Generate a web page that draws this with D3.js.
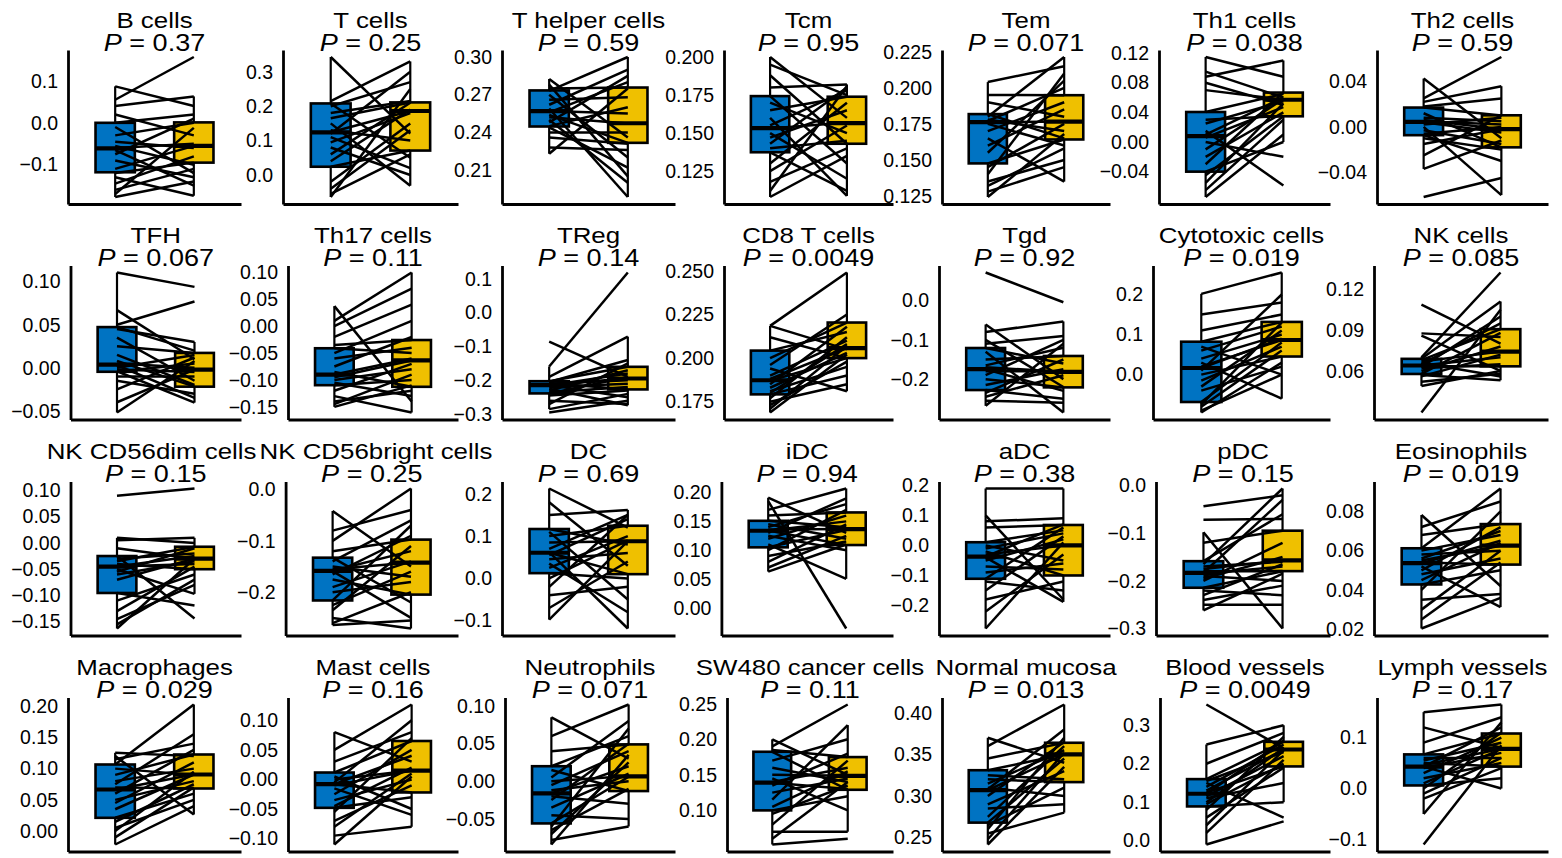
<!DOCTYPE html>
<html>
<head>
<meta charset="utf-8">
<script src="https://cdn.jsdelivr.net/npm/d3@7"></script>
<style>
  body { margin: 0; background: #fff; }
  svg text { font-family: "Liberation Sans", Arial, Helvetica, sans-serif; fill: #000; }
</style>
</head>
<body>
<svg id="main" width="1562" height="858"></svg>
<script>
// cell types, one small panel each (7 per row)
var cellTypes = [
  "B cells", "T cells", "T helper cells", "Tcm", "Tem", "Th1 cells", "Th2 cells",
  "TFH", "Th17 cells", "TReg", "CD8 T cells", "Tgd", "Cytotoxic cells", "NK cells",
  "NK CD56dim cells", "NK CD56bright cells", "DC", "iDC", "aDC", "pDC", "Eosinophils",
  "Macrophages", "Mast cells", "Neutrophils", "SW480 cancer cells", "Normal mucosa", "Blood vessels", "Lymph vessels"
];

var pValues = [
  "0.37", "0.25", "0.59", "0.95", "0.071", "0.038", "0.59",
  "0.067", "0.11", "0.14", "0.0049", "0.92", "0.019", "0.085",
  "0.15", "0.25", "0.69", "0.94", "0.38", "0.15", "0.019",
  "0.029", "0.16", "0.071", "0.11", "0.013", "0.0049", "0.17"
];

var tickLabels = [
  ["−0.1", "0.0", "0.1"], ["0.0", "0.1", "0.2", "0.3"], ["0.21", "0.24", "0.27", "0.30"],
  ["0.125", "0.150", "0.175", "0.200"], ["0.125", "0.150", "0.175", "0.200", "0.225"],
  ["−0.04", "0.00", "0.04", "0.08", "0.12"], ["−0.04", "0.00", "0.04"],
  ["−0.05", "0.00", "0.05", "0.10"], ["−0.15", "−0.10", "−0.05", "0.00", "0.05", "0.10"],
  ["−0.3", "−0.2", "−0.1", "0.0", "0.1"], ["0.175", "0.200", "0.225", "0.250"],
  ["−0.2", "−0.1", "0.0"], ["0.0", "0.1", "0.2"], ["0.06", "0.09", "0.12"],
  ["−0.15", "−0.10", "−0.05", "0.00", "0.05", "0.10"], ["−0.2", "−0.1", "0.0"],
  ["−0.1", "0.0", "0.1", "0.2"], ["0.00", "0.05", "0.10", "0.15", "0.20"],
  ["−0.2", "−0.1", "0.0", "0.1", "0.2"], ["−0.3", "−0.2", "−0.1", "0.0"],
  ["0.02", "0.04", "0.06", "0.08"],
  ["0.00", "0.05", "0.10", "0.15", "0.20"], ["−0.10", "−0.05", "0.00", "0.05", "0.10"],
  ["−0.05", "0.00", "0.05", "0.10"], ["0.10", "0.15", "0.20", "0.25"],
  ["0.25", "0.30", "0.35", "0.40"], ["0.0", "0.1", "0.2", "0.3"], ["−0.1", "0.0", "0.1"]
];

// box hinges: [q1, median, q3]
var boxBefore = [
  [-0.118, -0.061, 0.000], [0.024, 0.124, 0.208], [0.2447, 0.257, 0.2734], [0.1374, 0.1533, 0.1743],
  [0.1476, 0.1762, 0.1818], [-0.040, 0.008, 0.0405], [-0.0073, 0.0044, 0.017],
  [-0.0046, 0.0038, 0.0473], [-0.1097, -0.090, -0.041], [-0.2386, -0.2142, -0.2025], [0.1792, 0.1873, 0.2043],
  [-0.2278, -0.1747, -0.1207], [-0.0684, 0.0165, 0.0822], [0.0578, 0.064, 0.0689],
  [-0.0953, -0.0449, -0.0249], [-0.216, -0.1585, -0.1327], [0.0124, 0.0607, 0.1168], [0.105, 0.1338, 0.151],
  [-0.111, -0.037, 0.0106], [-0.2144, -0.183, -0.1586], [0.0428, 0.0536, 0.0612],
  [0.0213, 0.0666, 0.1066], [-0.048, -0.008, 0.0117], [-0.056, -0.016, 0.020], [0.100, 0.139, 0.1825],
  [0.268, 0.307, 0.331], [0.089, 0.122, 0.160], [0.006, 0.043, 0.067]
];

var boxAfter = [
  [-0.095, -0.055, 0.001], [0.071, 0.186, 0.211], [0.2317, 0.2473, 0.2757], [0.143, 0.1565, 0.1739],
  [0.1642, 0.1766, 0.1949], [0.0347, 0.057, 0.0667], [-0.018, -0.002, 0.0102],
  [-0.0219, -0.002, 0.0173], [-0.1127, -0.0637, -0.0257], [-0.2268, -0.1946, -0.160], [0.200, 0.2057, 0.2204],
  [-0.221, -0.1814, -0.141], [0.0452, 0.0864, 0.1316], [0.0634, 0.0742, 0.0907],
  [-0.050, -0.0298, -0.0072], [-0.2046, -0.1423, -0.0975], [0.010, 0.0879, 0.1245], [0.109, 0.1367, 0.1655],
  [-0.100, 0.000, 0.068], [-0.1795, -0.157, -0.0946], [0.0529, 0.0625, 0.0735],
  [0.0682, 0.0906, 0.1226], [-0.022, 0.015, 0.065], [-0.013, 0.0066, 0.049], [0.129, 0.1486, 0.175],
  [0.3167, 0.350, 0.364], [0.193, 0.237, 0.257], [0.043, 0.078, 0.108]
];

// paired samples, before (blue) and after (yellow), same order per panel
var pairedBefore = [
  [0.087, 0.055, 0.040, 0.020, 0.000, -0.010, -0.030, -0.045, -0.055, -0.060, -0.065, -0.075, -0.090, -0.110, -0.120, -0.130, -0.145, -0.160, -0.170, -0.177],
  [0.343, 0.215, 0.208, 0.200, 0.180, 0.165, 0.150, 0.130, 0.124, 0.120, 0.110, 0.095, 0.080, 0.060, 0.040, 0.024, -0.020, -0.040, -0.055, -0.064],
  [0.2825, 0.278, 0.275, 0.273, 0.270, 0.266, 0.262, 0.259, 0.257, 0.256, 0.254, 0.252, 0.250, 0.248, 0.245, 0.244, 0.240, 0.236, 0.228, 0.223],
  [0.200, 0.195, 0.188, 0.180, 0.1743, 0.170, 0.165, 0.160, 0.155, 0.153, 0.150, 0.147, 0.143, 0.140, 0.1374, 0.130, 0.125, 0.118, 0.112, 0.108],
  [0.204, 0.195, 0.190, 0.1818, 0.180, 0.178, 0.177, 0.1762, 0.175, 0.170, 0.165, 0.160, 0.155, 0.1476, 0.145, 0.140, 0.135, 0.132, 0.128, 0.1243],
  [0.1147, 0.095, 0.088, 0.080, 0.070, 0.0405, 0.030, 0.025, 0.015, 0.010, 0.006, 0.000, -0.010, -0.020, -0.030, -0.040, -0.045, -0.055, -0.065, -0.0742],
  [0.0425, 0.025, 0.022, 0.018, 0.017, 0.012, 0.008, 0.006, 0.005, 0.004, 0.002, 0.000, -0.003, -0.006, -0.0073, -0.010, -0.015, -0.025, -0.037, -0.0617],
  [0.1107, 0.067, 0.050, 0.0473, 0.045, 0.035, 0.025, 0.015, 0.008, 0.005, 0.003, 0.000, -0.002, -0.004, -0.0046, -0.010, -0.015, -0.025, -0.040, -0.0519],
  [0.0373, 0.010, 0.000, -0.020, -0.035, -0.041, -0.050, -0.060, -0.075, -0.085, -0.090, -0.095, -0.100, -0.105, -0.1097, -0.120, -0.130, -0.140, -0.145, -0.150],
  [-0.0854, -0.159, -0.190, -0.2025, -0.205, -0.208, -0.210, -0.212, -0.214, -0.215, -0.220, -0.225, -0.230, -0.235, -0.2386, -0.245, -0.260, -0.270, -0.285, -0.295],
  [0.2185, 0.2185, 0.212, 0.2043, 0.200, 0.196, 0.194, 0.190, 0.188, 0.187, 0.185, 0.183, 0.181, 0.180, 0.1792, 0.177, 0.175, 0.173, 0.171, 0.1688],
  [0.0717, -0.0608, -0.080, -0.100, -0.110, -0.1207, -0.130, -0.150, -0.165, -0.170, -0.175, -0.180, -0.190, -0.200, -0.215, -0.2278, -0.235, -0.245, -0.255, -0.268],
  [0.2017, 0.150, 0.110, 0.0822, 0.070, 0.060, 0.040, 0.030, 0.020, 0.0165, 0.010, 0.000, -0.015, -0.030, -0.040, -0.0684, -0.075, -0.080, -0.090, -0.0946],
  [0.1087, 0.0876, 0.086, 0.070, 0.0689, 0.068, 0.067, 0.066, 0.065, 0.064, 0.0635, 0.063, 0.062, 0.060, 0.0578, 0.057, 0.056, 0.052, 0.049, 0.0295],
  [0.090, 0.0098, 0.005, -0.010, -0.0249, -0.030, -0.035, -0.040, -0.045, -0.045, -0.050, -0.055, -0.060, -0.070, -0.0953, -0.110, -0.130, -0.145, -0.155, -0.163],
  [-0.0417, -0.080, -0.100, -0.120, -0.1327, -0.140, -0.150, -0.155, -0.158, -0.159, -0.165, -0.175, -0.190, -0.200, -0.216, -0.225, -0.235, -0.250, -0.260, -0.264],
  [0.2126, 0.180, 0.150, 0.1168, 0.110, 0.100, 0.085, 0.070, 0.062, 0.0607, 0.055, 0.045, 0.035, 0.025, 0.0124, 0.000, -0.020, -0.040, -0.070, -0.0975],
  [0.191, 0.185, 0.170, 0.160, 0.151, 0.145, 0.140, 0.136, 0.134, 0.1338, 0.130, 0.125, 0.120, 0.110, 0.105, 0.100, 0.090, 0.080, 0.070, 0.063],
  [0.1894, 0.100, 0.080, 0.060, 0.0106, 0.000, -0.010, -0.020, -0.030, -0.037, -0.040, -0.050, -0.070, -0.090, -0.111, -0.120, -0.150, -0.180, -0.220, -0.2765],
  [-0.0435, -0.0715, -0.098, -0.120, -0.1586, -0.165, -0.170, -0.175, -0.180, -0.183, -0.185, -0.190, -0.195, -0.200, -0.2144, -0.220, -0.230, -0.240, -0.250, -0.262],
  [0.0781, 0.072, 0.068, 0.0612, 0.060, 0.058, 0.056, 0.055, 0.054, 0.0536, 0.052, 0.050, 0.048, 0.045, 0.0428, 0.040, 0.035, 0.030, 0.025, 0.0204],
  [0.1253, 0.120, 0.115, 0.1066, 0.100, 0.090, 0.080, 0.075, 0.070, 0.0666, 0.060, 0.050, 0.045, 0.035, 0.0213, 0.015, 0.005, 0.000, -0.010, -0.0214],
  [0.080, 0.050, 0.030, 0.0117, 0.005, 0.000, -0.005, -0.008, -0.008, -0.010, -0.015, -0.025, -0.035, -0.045, -0.048, -0.055, -0.070, -0.080, -0.095, -0.110],
  [0.085, 0.060, 0.040, 0.020, 0.015, 0.005, 0.000, -0.005, -0.012, -0.016, -0.020, -0.025, -0.035, -0.045, -0.056, -0.060, -0.065, -0.070, -0.078, -0.084],
  [0.200, 0.190, 0.185, 0.1825, 0.170, 0.160, 0.150, 0.145, 0.140, 0.139, 0.135, 0.125, 0.115, 0.105, 0.100, 0.095, 0.080, 0.070, 0.060, 0.052],
  [0.370, 0.360, 0.345, 0.331, 0.325, 0.320, 0.315, 0.310, 0.308, 0.307, 0.300, 0.290, 0.285, 0.275, 0.268, 0.265, 0.260, 0.255, 0.248, 0.2417],
  [0.354, 0.250, 0.200, 0.160, 0.155, 0.150, 0.140, 0.130, 0.125, 0.122, 0.115, 0.110, 0.100, 0.095, 0.089, 0.080, 0.060, 0.040, 0.020, -0.010],
  [0.150, 0.120, 0.090, 0.067, 0.060, 0.055, 0.050, 0.046, 0.043, 0.043, 0.040, 0.030, 0.020, 0.010, 0.006, 0.000, -0.010, -0.020, -0.050, -0.110]
];

var pairedAfter = [
  [0.040, 0.157, 0.063, -0.030, 0.020, -0.120, 0.000, -0.060, -0.100, -0.050, -0.150, 0.010, -0.130, -0.055, -0.095, -0.174, -0.080, -0.110, -0.012, -0.140],
  [0.120, 0.330, 0.050, 0.270, 0.215, 0.211, -0.031, 0.100, 0.186, 0.300, 0.020, 0.180, 0.000, 0.210, 0.190, 0.071, 0.150, 0.130, 0.060, 0.250],
  [0.236, 0.205, 0.2757, 0.300, 0.220, 0.268, 0.290, 0.1886, 0.255, 0.280, 0.2317, 0.247, 0.200, 0.285, 0.260, 0.212, 0.240, 0.231, 0.226, 0.275],
  [0.160, 0.175, 0.143, 0.182, 0.130, 0.150, 0.1739, 0.1087, 0.178, 0.157, 0.120, 0.165, 0.180, 0.145, 0.112, 0.170, 0.155, 0.140, 0.181, 0.135],
  [0.215, 0.1949, 0.180, 0.165, 0.2214, 0.170, 0.200, 0.1766, 0.160, 0.190, 0.135, 0.185, 0.205, 0.1642, 0.175, 0.210, 0.150, 0.158, 0.145, 0.168],
  [0.088, 0.060, 0.110, 0.050, 0.057, 0.065, 0.035, 0.055, -0.0587, 0.060, 0.047, -0.020, 0.058, 0.040, 0.0667, 0.000, 0.0347, 0.052, 0.030, 0.010],
  [-0.010, 0.0615, 0.0358, 0.025, 0.010, -0.018, 0.005, -0.002, 0.002, -0.005, 0.008, -0.060, -0.015, 0.000, -0.030, -0.020, -0.002, 0.0102, -0.012, -0.045],
  [0.094, 0.010, 0.077, 0.020, 0.030, -0.015, 0.0173, -0.020, -0.0219, 0.000, -0.035, 0.015, -0.005, -0.0404, 0.005, -0.010, -0.030, 0.012, -0.002, 0.008],
  [-0.140, 0.0999, 0.070, 0.040, -0.0257, -0.050, 0.010, -0.040, -0.020, -0.1127, -0.060, -0.0637, -0.080, -0.130, -0.100, -0.070, -0.1605, -0.120, -0.090, -0.110],
  [-0.190, 0.1187, -0.0708, -0.160, -0.140, -0.2268, -0.200, -0.1946, -0.250, -0.180, -0.210, -0.2736, -0.170, -0.220, -0.190, -0.230, -0.270, -0.150, -0.240, -0.260],
  [0.205, 0.2491, 0.200, 0.215, 0.2204, 0.225, 0.181, 0.210, 0.2057, 0.200, 0.218, 0.203, 0.195, 0.208, 0.190, 0.212, 0.185, 0.198, 0.207, 0.202],
  [-0.004, -0.200, -0.053, -0.220, -0.090, -0.160, -0.285, -0.141, -0.120, -0.1814, -0.230, -0.180, -0.100, -0.221, -0.175, -0.250, -0.150, -0.190, -0.260, -0.110],
  [0.255, 0.180, 0.150, 0.1316, 0.000, 0.120, 0.100, -0.060, 0.0864, 0.090, 0.200, 0.0452, 0.070, 0.110, 0.020, 0.080, 0.130, 0.060, 0.000, 0.030],
  [0.080, 0.085, 0.060, 0.1323, 0.111, 0.0907, 0.0742, 0.056, 0.095, 0.070, 0.0634, 0.100, 0.065, 0.078, 0.088, 0.0532, 0.072, 0.058, 0.060, 0.105],
  [0.1038, 0.000, 0.0098, -0.030, -0.144, -0.020, -0.0072, -0.050, -0.025, -0.040, -0.097, -0.010, -0.035, -0.0298, -0.119, -0.060, -0.045, -0.080, -0.070, -0.030],
  [-0.150, -0.040, 0.002, -0.0975, -0.220, -0.060, -0.170, -0.1423, -0.120, -0.250, -0.090, -0.2046, -0.140, -0.180, -0.070, -0.160, -0.110, -0.2706, -0.200, -0.255],
  [0.120, 0.030, 0.162, 0.080, -0.050, 0.1245, 0.0879, 0.150, -0.1185, 0.010, 0.140, 0.060, -0.080, 0.100, 0.000, 0.090, 0.150, -0.020, 0.040, 0.0879],
  [0.130, -0.0357, 0.207, 0.1655, 0.140, 0.120, 0.180, 0.1367, 0.109, 0.150, 0.190, 0.100, 0.160, 0.0505, 0.135, 0.170, 0.115, 0.145, 0.125, 0.110],
  [0.1894, -0.180, 0.090, 0.068, 0.050, -0.050, 0.040, -0.100, 0.000, 0.070, -0.188, 0.020, -0.080, -0.060, 0.060, -0.150, 0.030, -0.120, -0.030, 0.010],
  [-0.020, -0.070, -0.300, -0.0946, -0.060, -0.006, -0.160, -0.157, -0.1795, -0.030, -0.170, -0.200, -0.150, -0.120, -0.180, -0.230, -0.165, -0.210, -0.250, -0.185],
  [0.042, 0.085, 0.0735, 0.0916, 0.068, 0.060, 0.070, 0.0625, 0.0529, 0.065, 0.0313, 0.072, 0.056, 0.064, 0.050, 0.080, 0.038, 0.060, 0.054, 0.036],
  [0.120, 0.0266, 0.140, 0.2026, 0.090, 0.1226, 0.100, 0.155, 0.0682, 0.0906, 0.130, 0.080, 0.110, 0.0906, 0.060, 0.075, 0.050, 0.095, 0.070, 0.040],
  [0.030, 0.1267, 0.080, 0.065, -0.050, 0.015, 0.100, -0.022, 0.040, 0.015, -0.060, 0.050, 0.000, 0.020, -0.030, 0.070, -0.010, 0.010, -0.080, 0.005],
  [0.030, 0.102, 0.049, 0.060, -0.013, 0.080, 0.007, 0.040, 0.000, 0.020, -0.030, 0.050, 0.010, -0.050, 0.006, 0.070, -0.010, 0.025, -0.060, 0.035],
  [0.150, 0.249, 0.175, 0.129, 0.200, 0.140, 0.1486, 0.100, 0.160, 0.130, 0.180, 0.145, 0.220, 0.155, 0.120, 0.135, 0.170, 0.070, 0.140, 0.060],
  [0.340, 0.410, 0.364, 0.350, 0.320, 0.3167, 0.355, 0.300, 0.380, 0.350, 0.365, 0.330, 0.290, 0.360, 0.345, 0.310, 0.370, 0.280, 0.352, 0.335],
  [0.240, 0.300, 0.280, 0.257, 0.230, 0.060, 0.250, 0.237, 0.193, 0.260, 0.220, 0.150, 0.240, 0.200, 0.100, 0.270, 0.190, 0.235, 0.210, 0.050],
  [0.165, 0.080, 0.140, 0.108, 0.060, 0.090, 0.043, 0.078, 0.120, 0.000, 0.070, 0.100, 0.050, 0.078, 0.020, 0.110, 0.060, 0.040, 0.130, 0.085]
];

// layout: y-axis position of every panel (depends on its tick label width)
var axisLeft = [
  68, 283, 502, 724, 942, 1159, 1377,
  70.5, 288, 502, 724, 939, 1153, 1374,
  70.5, 285.6, 502, 721.4, 939, 1156, 1374,
  68, 288, 505, 727, 942, 1160, 1377
];
var colRight = [241, 458, 675, 893, 1110, 1330, 1548];
var rowTop = [50, 265.5, 481.5, 697.5];
var panelHeight = 154;
var titleStretch = 1.15;

var colors = { before: "#0073C2", after: "#EFC000" };

var svg = d3.select("#main");
var titles = [];

function toNumber(label) {
  return +label.replace("−", "-");
}

cellTypes.forEach(function(name, i) {
  var row = Math.floor(i / 7), col = i % 7;
  var left = axisLeft[i], right = colRight[col];
  var top = rowTop[row], bottom = top + panelHeight;
  var before = pairedBefore[i], after = pairedAfter[i];

  var ext = d3.extent(before.concat(after));
  var pad = (ext[1] - ext[0]) * 0.05;
  var y = d3.scaleLinear().domain([ext[0] - pad, ext[1] + pad]).range([bottom, top]);
  var x = d3.scalePoint().domain(["before", "after"]).range([left, right]).padding(0.6);
  var boxW = x.step() * 0.5;

  var g = svg.append("g").attr("class", "panel");

  // boxes with whiskers (outliers hidden, lines show every sample)
  [["before", before, boxBefore[i]], ["after", after, boxAfter[i]]].forEach(function(b) {
    var key = b[0], vals = b[1], q = b[2];
    var iqr = q[2] - q[0];
    var lo = d3.min(vals.filter(function(v) { return v >= q[0] - 1.5 * iqr; }));
    var hi = d3.max(vals.filter(function(v) { return v <= q[2] + 1.5 * iqr; }));
    var cx = x(key);
    g.append("line")
      .attr("x1", cx).attr("x2", cx)
      .attr("y1", y(lo)).attr("y2", y(hi))
      .attr("stroke", "#000").attr("stroke-width", 2.2);
    g.append("rect")
      .attr("x", cx - boxW / 2).attr("width", boxW)
      .attr("y", y(q[2])).attr("height", y(q[0]) - y(q[2]))
      .attr("fill", colors[key])
      .attr("stroke", "#000").attr("stroke-width", 2.6);
    g.append("line")
      .attr("x1", cx - boxW / 2).attr("x2", cx + boxW / 2)
      .attr("y1", y(q[1])).attr("y2", y(q[1]))
      .attr("stroke", "#000").attr("stroke-width", 4.2);
  });

  // paired lines
  g.selectAll("line.pair")
    .data(d3.range(before.length))
    .enter()
    .append("line")
    .attr("class", "pair")
    .attr("x1", x("before")).attr("x2", x("after"))
    .attr("y1", function(j) { return y(before[j]); })
    .attr("y2", function(j) { return y(after[j]); })
    .attr("stroke", "#000").attr("stroke-width", 2.5);

  // axes
  var labels = tickLabels[i];
  var yAxis = d3.axisLeft(y)
    .tickValues(labels.map(toNumber))
    .tickFormat(function(d, k) { return labels[k]; })
    .tickSize(0)
    .tickPadding(10);
  var ya = g.append("g").attr("transform", "translate(" + left + ",0)").call(yAxis);
  ya.select(".domain").attr("stroke-width", 2.8);
  ya.selectAll("text").attr("font-size", 19.5).attr("font-family", null);

  var xAxis = d3.axisBottom(x).tickSize(0).tickFormat("");
  var xa = g.append("g").attr("transform", "translate(0," + bottom + ")").call(xAxis);
  xa.select(".domain").attr("stroke-width", 2.8);

  // title and P value
  var cx = (left + right) / 2;
  var title = g.append("text")
    .attr("transform", "translate(" + cx + "," + (top - 22.5) + ") scale(" + titleStretch + ",1)")
    .attr("text-anchor", "middle")
    .attr("font-size", 22.5)
    .text(name);
  titles.push({ node: title, row: row, cx: cx, y: top - 22.5,
    width: title.node().getBBox().width * titleStretch });

  var pt = g.append("text")
    .attr("transform", "translate(" + cx + "," + (top + 0.5) + ") scale(1.15,1)")
    .attr("text-anchor", "middle")
    .attr("font-size", 23.5);
  pt.append("tspan").attr("font-style", "italic").text("P");
  pt.append("tspan").text(" = " + pValues[i]);
});

// long neighbouring titles push each other apart a little
for (var k = 1; k < titles.length; k++) {
  var a = titles[k - 1], b = titles[k];
  if (a.row !== b.row) continue;
  var overlap = (a.cx + a.width / 2) - (b.cx - b.width / 2) + 3;
  if (overlap > 0) {
    a.cx -= overlap / 2;
    b.cx += overlap / 2;
  }
}
titles.forEach(function(t) {
  t.node.attr("transform", "translate(" + t.cx + "," + t.y + ") scale(" + titleStretch + ",1)");
});
</script>
</body>
</html>
